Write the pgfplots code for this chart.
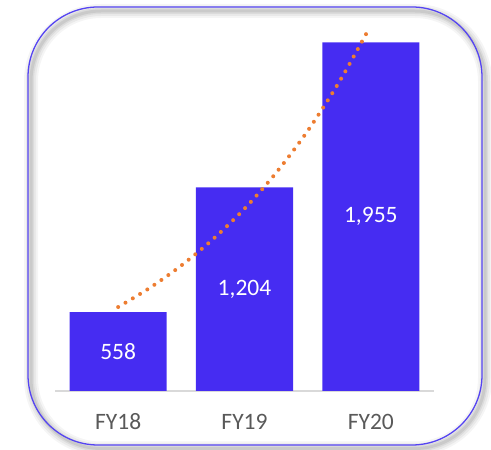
\documentclass[border=0pt]{standalone}
\usepackage{pgfplots}
\pgfplotsset{compat=1.18}
\usepackage{fontspec}
\setmainfont{Carlito}
\definecolor{barblue}{HTML}{462CF2}
\definecolor{boxblue}{HTML}{5544F2}
\definecolor{trend}{HTML}{ED7D31}
\definecolor{tickgray}{HTML}{595959}
\definecolor{axisgray}{HTML}{D9D9D9}
\begin{document}
\begin{tikzpicture}
\useasboundingbox (0pt,0pt) rectangle (491pt,450pt);
\foreach \w/\o in {14/0.04, 10/0.05, 6/0.06, 3/0.08}{
  \draw[black, opacity=\o, line width=\w pt, rounded corners=70pt] (31pt,1.5pt) rectangle (485pt,439pt);
}
\draw[boxblue, line width=1.3pt, rounded corners=70pt] (28pt,5pt) rectangle (482pt,443pt);
\begin{axis}[at={(55pt,59pt)}, anchor=south west, scale only axis,
  width=379pt, height=376.5pt,
  xmin=-0.5, xmax=2.5, ymin=150, ymax=2100,
  axis y line=none, axis x line*=bottom,
  x axis line style={-, draw=axisgray, line width=1.3pt},
  xtick={0,1,2}, xticklabels={FY18,FY19,FY20}, major tick length=0pt,
  xticklabel style={anchor=base, yshift=-39pt, font=\fontsize{23.5}{28}\selectfont, text=tickgray}]
\addplot[ybar, bar width=97pt, fill=barblue, draw=none] coordinates {(0,558) (1,1204) (2,1955)};
\addplot[trend, line width=4pt, line cap=round, dash pattern=on 0pt off 8.5pt, smooth]
  coordinates {(0,585) (0.25,684) (0.5,800) (0.75,936) (1,1094) (1.25,1280) (1.5,1497) (1.75,1751) (1.97,2008)};
\addplot[only marks, mark=none, nodes near coords, point meta=explicit symbolic,
  nodes near coords style={anchor=center, text=white, font=\fontsize{23.5}{28}\selectfont}]
  table[meta=label] {
x y label
0 354 558
1 677 1,204
2 1052 1,955
};
\end{axis}
\end{tikzpicture}
\end{document}
